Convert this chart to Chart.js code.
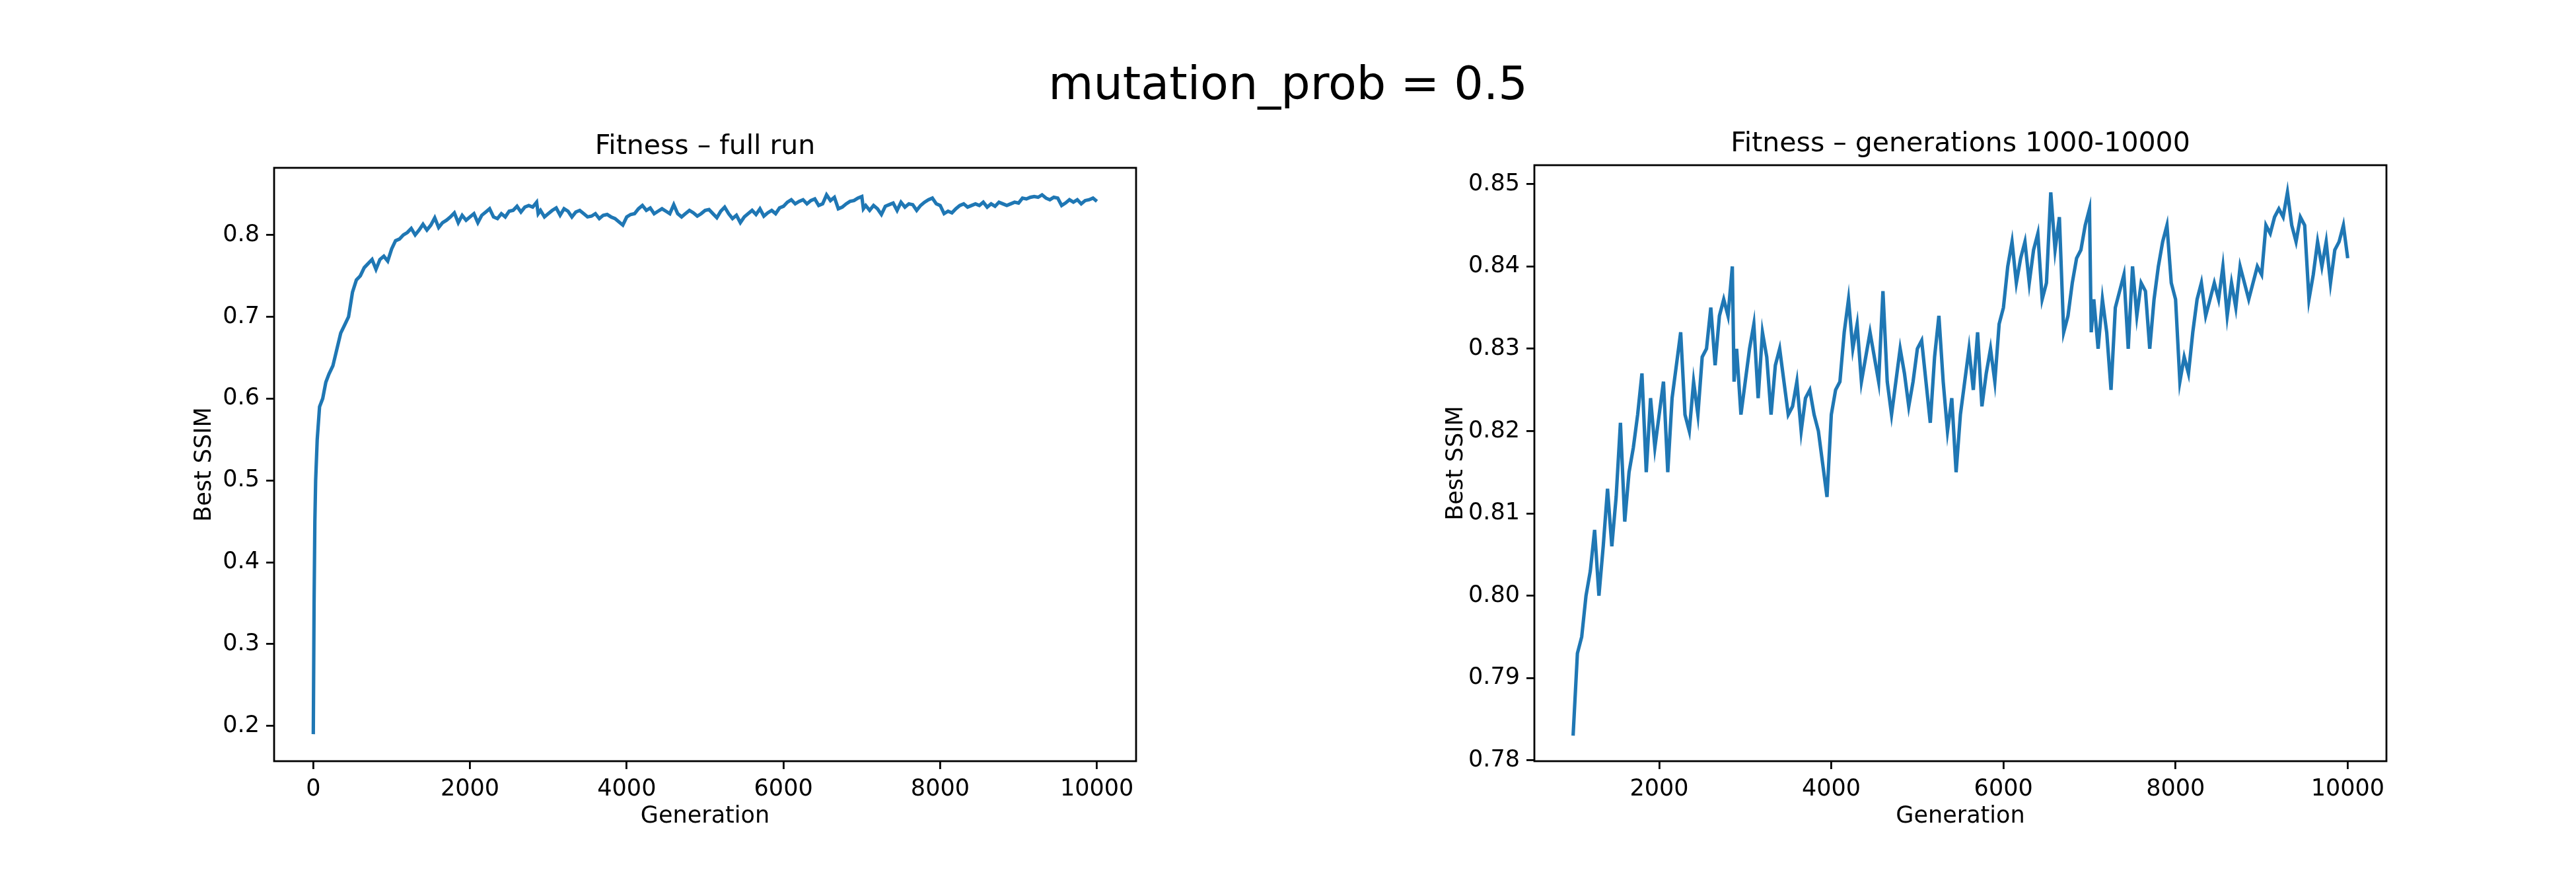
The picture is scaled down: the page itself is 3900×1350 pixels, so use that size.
<!DOCTYPE html>
<html>
<head>
<meta charset="utf-8">
<script src="https://cdn.jsdelivr.net/npm/chart.js@4.4.0/dist/chart.umd.min.js"></script>
<style>
  body { margin: 0; background: #fff; width: 3900px; height: 1350px; position: relative; overflow: hidden; }
  canvas { position: absolute; top: 0; }
  #suptitle { position: absolute; top: 86px; left: 0; width: 3900px; text-align: center;
              font-family: "DejaVu Sans"; font-size: 70px; line-height: 80px; color: #000; }
</style>
</head>
<body>
<div id="suptitle">mutation_prob = 0.5</div>
<canvas id="full" width="1800" height="1350" style="left:0px"></canvas>
<canvas id="late" width="1950" height="1350" style="left:1950px"></canvas>
<script>
// Generation numbers and best SSIM
const generations = [
  0, 10, 20, 30, 50, 80, 120, 160, 200, 250, 300, 350, 400, 450, 500, 550, 600, 650, 700, 750,
  800, 850, 900, 950,
  1000, 1050, 1100, 1150, 1200, 1250, 1300, 1350, 1400, 1450, 1500, 1550, 1600, 1650, 1700, 1750,
  1800, 1850, 1900, 1950, 2000, 2050, 2100, 2150, 2200, 2250, 2300, 2350, 2400, 2450, 2500, 2550,
  2600, 2650, 2700, 2750, 2800, 2850, 2870, 2900, 2950, 3000, 3050, 3100, 3150, 3200, 3250, 3300,
  3350, 3400, 3450, 3500, 3550, 3600, 3650, 3700, 3750, 3800, 3850, 3900, 3950, 4000, 4050, 4100,
  4150, 4200, 4250, 4300, 4350, 4400, 4450, 4500, 4550, 4600, 4650, 4700, 4750, 4800, 4850, 4900,
  4950, 5000, 5050, 5100, 5150, 5200, 5250, 5300, 5350, 5400, 5450, 5500, 5550, 5600, 5650, 5700,
  5750, 5800, 5850, 5900, 5950, 6000, 6050, 6100, 6150, 6200, 6250, 6300, 6350, 6400, 6450, 6500,
  6550, 6600, 6650, 6700, 6750, 6800, 6850, 6900, 6950, 7000, 7020, 7050, 7100, 7150, 7200, 7250,
  7300, 7350, 7400, 7450, 7500, 7550, 7600, 7650, 7700, 7750, 7800, 7850, 7900, 7950, 8000, 8050,
  8100, 8150, 8200, 8250, 8300, 8350, 8400, 8450, 8500, 8550, 8600, 8650, 8700, 8750, 8800, 8850,
  8900, 8950, 9000, 9050, 9100, 9150, 9200, 9250, 9300, 9350, 9400, 9450, 9500, 9550, 9600, 9650,
  9700, 9750, 9800, 9850, 9900, 9950, 10000
];
const bestSsim = [
  0.190, 0.350, 0.450, 0.500, 0.550, 0.590, 0.600, 0.620, 0.630, 0.640, 0.660, 0.680, 0.690, 0.700, 0.730, 0.745, 0.750, 0.760, 0.765, 0.770,
  0.758, 0.770, 0.774, 0.768,
  0.783, 0.793, 0.795, 0.800, 0.803, 0.808, 0.800, 0.806, 0.813, 0.806, 0.812, 0.821, 0.809, 0.815, 0.818, 0.822,
  0.827, 0.815, 0.824, 0.818, 0.822, 0.826, 0.815, 0.824, 0.828, 0.832, 0.822, 0.820, 0.826, 0.822, 0.829, 0.830,
  0.835, 0.828, 0.834, 0.836, 0.834, 0.840, 0.826, 0.830, 0.822, 0.826, 0.830, 0.833, 0.824, 0.832, 0.829, 0.822,
  0.828, 0.830, 0.826, 0.822, 0.823, 0.826, 0.820, 0.824, 0.825, 0.822, 0.820, 0.816, 0.812, 0.822, 0.825, 0.826,
  0.832, 0.836, 0.830, 0.833, 0.826, 0.829, 0.832, 0.829, 0.826, 0.837, 0.826, 0.822, 0.826, 0.830, 0.827, 0.823,
  0.826, 0.830, 0.831, 0.826, 0.821, 0.829, 0.834, 0.826, 0.820, 0.824, 0.815, 0.822, 0.826, 0.830, 0.825, 0.832,
  0.823, 0.827, 0.830, 0.826, 0.833, 0.835, 0.840, 0.843, 0.838, 0.841, 0.843, 0.838, 0.842, 0.844, 0.836, 0.838,
  0.849, 0.842, 0.846, 0.832, 0.834, 0.838, 0.841, 0.842, 0.845, 0.847, 0.832, 0.836, 0.830, 0.836, 0.832, 0.825,
  0.835, 0.837, 0.839, 0.830, 0.840, 0.834, 0.838, 0.837, 0.830, 0.836, 0.840, 0.843, 0.845, 0.838, 0.836, 0.826,
  0.829, 0.827, 0.832, 0.836, 0.838, 0.834, 0.836, 0.838, 0.836, 0.840, 0.834, 0.838, 0.835, 0.840, 0.838, 0.836,
  0.838, 0.840, 0.839, 0.845, 0.844, 0.846, 0.847, 0.846, 0.849, 0.845, 0.843, 0.846, 0.845, 0.836, 0.839, 0.843,
  0.840, 0.843, 0.838, 0.842, 0.843, 0.845, 0.841
];

// Tick labels
const fullXTicks = [0, 2000, 4000, 6000, 8000, 10000];
const fullYTicks = [0.2, 0.3, 0.4, 0.5, 0.6, 0.7, 0.8];
const lateXTicks = [2000, 4000, 6000, 8000, 10000];
const lateYTicks = [0.78, 0.79, 0.80, 0.81, 0.82, 0.83, 0.84, 0.85];

const FONT = "DejaVu Sans";
const points = generations.map((g, i) => ({ x: g, y: bestSsim[i] }));

// Cadre complet, titre du sous-graphique et titres d'axes
const framePlugin = {
    id: 'frame',
    afterDraw(chart, args, opts) {
        const a = chart.chartArea, ctx = chart.ctx;
        ctx.save();
        ctx.strokeStyle = '#000';
        ctx.lineWidth = 2.8;
        ctx.strokeRect(a.left, a.top, a.right - a.left, a.bottom - a.top);
        ctx.fillStyle = '#000';
        ctx.textAlign = 'center';
        ctx.font = '41px "' + FONT + '"';
        ctx.textBaseline = 'alphabetic';
        ctx.fillText(opts.text, (a.left + a.right) / 2, a.top - 21);
        ctx.font = '35px "' + FONT + '"';
        ctx.textBaseline = 'middle';
        ctx.fillText('Generation', (a.left + a.right) / 2, a.bottom + 84);
        ctx.translate(a.left - opts.yOffset, (a.top + a.bottom) / 2);
        ctx.rotate(-Math.PI / 2);
        ctx.fillText('Best SSIM', 0, 0);
        ctx.restore();
    }
};

function makeChart(id, data, o) {
    return new Chart(document.getElementById(id), {
        type: 'line',
        data: { datasets: [{ data: data, borderColor: '#1f77b4', borderWidth: 5.2, pointRadius: 0, tension: 0, fill: false }] },
        plugins: [framePlugin],
        options: {
            responsive: false,
            animation: false,
            devicePixelRatio: 1,
            layout: { padding: { top: o.top, right: o.right, left: 0, bottom: 0 } },
            plugins: { legend: { display: false }, tooltip: { enabled: false }, frame: { text: o.title, yOffset: o.yOffset } },
            scales: {
                x: {
                    type: 'linear', min: o.xmin, max: o.xmax,
                    afterBuildTicks: s => { s.ticks = o.xticks.map(v => ({ value: v })); },
                    afterFit: s => { s.height = 198; },
                    grid: { drawOnChartArea: false, tickLength: 12, color: '#000', lineWidth: 2.8 },
                    border: { display: false },
                    ticks: { color: '#000', font: { family: FONT, size: 35 }, padding: 10, maxRotation: 0, callback: v => String(v) }
                },
                y: {
                    min: o.ymin, max: o.ymax,
                    afterBuildTicks: s => { s.ticks = o.yticks.map(v => ({ value: v })); },
                    afterFit: s => { s.width = o.yw; },
                    grid: { drawOnChartArea: false, tickLength: 12, color: '#000', lineWidth: 2.8 },
                    border: { display: false },
                    ticks: { color: '#000', font: { family: FONT, size: 35 }, padding: 10, callback: v => v.toFixed(o.dec) }
                }
            }
        }
    });
}

makeChart('full', points, {
    title: 'Fitness \u2013 full run', top: 254, right: 80, yw: 415, yOffset: 105,
    xmin: -500, xmax: 10500, ymin: 0.157, ymax: 0.882,
    xticks: fullXTicks, yticks: fullYTicks, dec: 1
});

makeChart('late', points.filter(p => p.x >= 1000), {
    title: 'Fitness \u2013 generations 1000-10000', top: 250, right: 287, yw: 373, yOffset: 118,
    xmin: 550, xmax: 10450, ymin: 0.7799, ymax: 0.8523,
    xticks: lateXTicks, yticks: lateYTicks, dec: 2
});
</script>
</body>
</html>
